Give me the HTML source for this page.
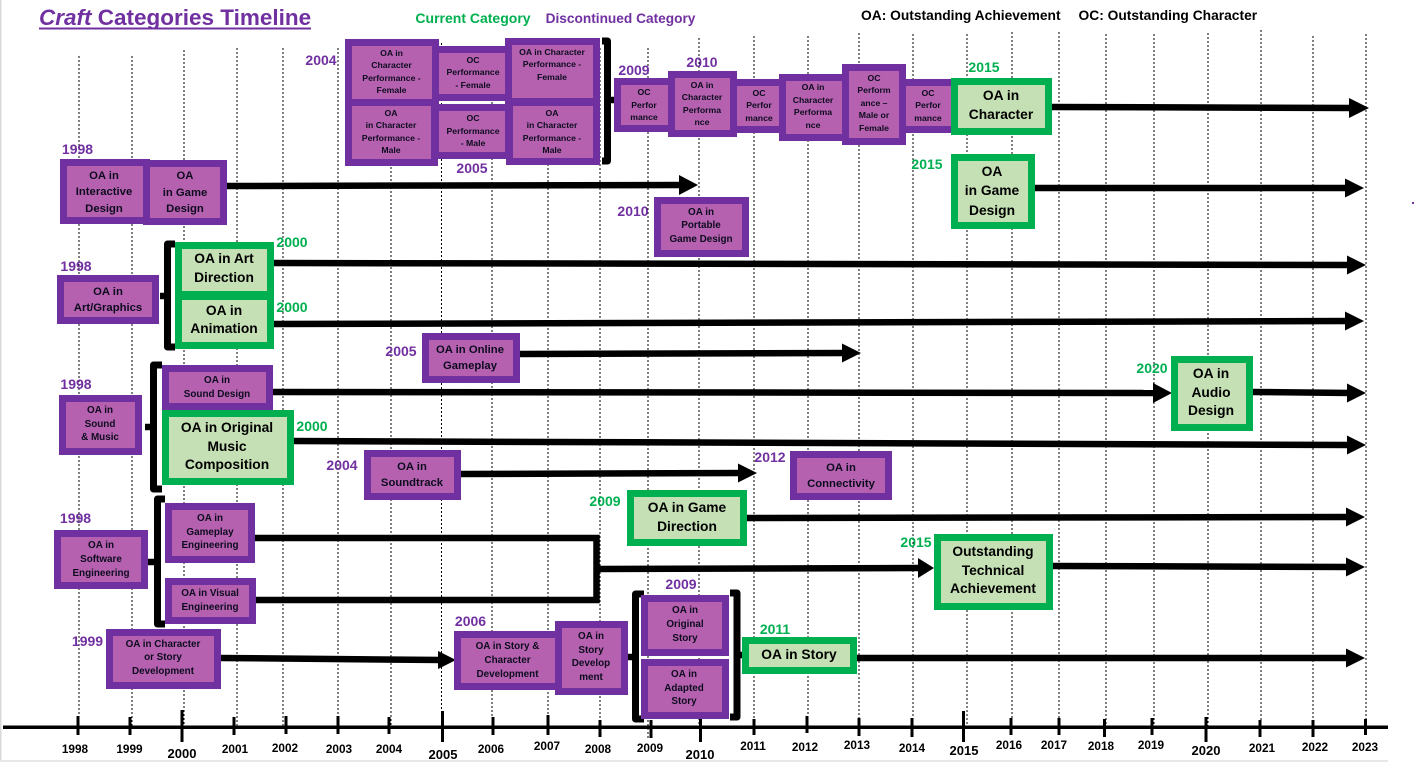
<!DOCTYPE html>
<html lang="en">
<head>
<meta charset="utf-8">
<title>Craft Categories Timeline</title>
<style>
html,body{margin:0;padding:0;background:#fff}
svg{display:block}
text{font-family:"Liberation Sans",sans-serif;font-weight:bold;fill:#0c0c1e;text-anchor:middle}
.p{fill:#b661b0;stroke:#7030a0;stroke-width:7}
.g{fill:#c5e0b4;stroke:#00b050;stroke-width:7}
.d line{stroke:#000;stroke-width:1;stroke-dasharray:2 2;shape-rendering:crispEdges}
.k{fill:none;stroke:#000;stroke-width:6.5}
.b{fill:none;stroke:#000;stroke-width:7;stroke-linejoin:round}
.t line{stroke:#000;stroke-width:3}
.yp text{fill:#7030a0;font-size:14px}
.yg text{fill:#00b050;font-size:14px}
.a text{font-size:11.8px;fill:#000}
.a text.l{font-size:13px}
.s8 text{font-size:8.7px}
.s10 text{font-size:9.9px}
.s11 text{font-size:11.3px}
.s14 text{font-size:13.8px;fill:#000}
</style>
</head>
<body>
<svg width="1414" height="762" viewBox="0 0 1414 762" xmlns="http://www.w3.org/2000/svg">
<rect width="1414" height="762" fill="#fff"/>
<rect x="0" y="0" width="1.5" height="762" fill="#d9d9d9"/>
<rect x="0" y="760" width="1388" height="2" fill="#e7e7e7"/>
<rect x="1412" y="202" width="2" height="2" fill="#7030a0"/>

<g class="d">
<line x1="79" y1="56" x2="79" y2="727"/>
<line x1="132" y1="56" x2="132" y2="727"/>
<line x1="184" y1="50" x2="184" y2="727"/>
<line x1="237" y1="48" x2="237" y2="727"/>
<line x1="283" y1="48" x2="283" y2="727"/>
<line x1="338" y1="48" x2="338" y2="727"/>
<line x1="391" y1="43" x2="391" y2="727"/>
<line x1="441.5" y1="43" x2="441.5" y2="727"/>
<line x1="492" y1="46" x2="492" y2="727"/>
<line x1="548" y1="48" x2="548" y2="727"/>
<line x1="600" y1="48" x2="600" y2="727"/>
<line x1="648" y1="48" x2="648" y2="740"/>
<line x1="699" y1="38" x2="699" y2="727"/>
<line x1="754" y1="36" x2="754" y2="727"/>
<line x1="808" y1="36" x2="808" y2="727"/>
<line x1="859" y1="33" x2="859" y2="727"/>
<line x1="913" y1="34" x2="913" y2="727"/>
<line x1="967" y1="34" x2="967" y2="727"/>
<line x1="1012" y1="32" x2="1012" y2="727"/>
<line x1="1059" y1="32" x2="1059" y2="727"/>
<line x1="1106" y1="34" x2="1106" y2="727"/>
<line x1="1154" y1="34" x2="1154" y2="727"/>
<line x1="1208" y1="33" x2="1208" y2="727"/>
<line x1="1261" y1="30" x2="1261" y2="727"/>
<line x1="1313" y1="36" x2="1313" y2="727"/>
<line x1="1366" y1="34" x2="1366" y2="727"/>
</g>

<!-- axis -->
<rect x="3" y="725.5" width="1385" height="3.5" fill="#000"/>
<g class="t">
<line x1="78" y1="716" x2="78" y2="735"/>
<line x1="130" y1="717" x2="130" y2="735"/>
<line x1="182" y1="710" x2="182" y2="742"/>
<line x1="234" y1="717" x2="234" y2="735"/>
<line x1="286" y1="716" x2="286" y2="734"/>
<line x1="338" y1="716" x2="338" y2="734"/>
<line x1="389" y1="717" x2="389" y2="734"/>
<line x1="442.5" y1="711" x2="442.5" y2="742"/>
<line x1="493" y1="717" x2="493" y2="735"/>
<line x1="548" y1="715" x2="548" y2="735"/>
<line x1="600" y1="720" x2="600" y2="737"/>
<line x1="651" y1="720" x2="651" y2="738"/>
<line x1="700.5" y1="719" x2="700.5" y2="742"/>
<line x1="754" y1="719" x2="754" y2="735"/>
<line x1="807" y1="716" x2="807" y2="733"/>
<line x1="859" y1="718" x2="859" y2="736"/>
<line x1="912" y1="718" x2="912" y2="737"/>
<line x1="963.5" y1="711" x2="963.5" y2="742"/>
<line x1="1011" y1="718" x2="1011" y2="735"/>
<line x1="1059" y1="718" x2="1059" y2="735"/>
<line x1="1104.5" y1="719" x2="1104.5" y2="737"/>
<line x1="1152" y1="718" x2="1152" y2="735"/>
<line x1="1206" y1="717" x2="1206" y2="742"/>
<line x1="1260" y1="720" x2="1260" y2="737"/>
<line x1="1313" y1="720" x2="1313" y2="737"/>
<line x1="1365.5" y1="719" x2="1365.5" y2="735"/>
</g>
<g class="a">
<text x="75" y="753">1998</text>
<text x="129.5" y="753">1999</text>
<text class="l" x="182" y="758">2000</text>
<text x="235" y="753">2001</text>
<text x="285" y="752">2002</text>
<text x="339" y="753">2003</text>
<text x="389" y="753">2004</text>
<text class="l" x="443" y="759">2005</text>
<text x="491" y="753">2006</text>
<text x="547" y="750">2007</text>
<text x="598" y="753">2008</text>
<text x="650" y="752">2009</text>
<text class="l" x="700" y="759">2010</text>
<text x="753" y="750">2011</text>
<text x="805" y="751">2012</text>
<text x="857" y="749">2013</text>
<text x="912" y="752">2014</text>
<text class="l" x="964" y="755">2015</text>
<text x="1009" y="749">2016</text>
<text x="1054" y="749">2017</text>
<text x="1101" y="750">2018</text>
<text x="1151" y="749">2019</text>
<text class="l" x="1206" y="755">2020</text>
<text x="1262" y="752">2021</text>
<text x="1315" y="751">2022</text>
<text x="1365" y="751">2023</text>
</g>

<!-- connectors -->
<g class="k">
<path d="M227 186L685 185"/>
<path d="M1052 107L1355 108"/>
<path d="M1035 188L1350 188"/>
<path d="M274 263L1352 265"/>
<path d="M274 324L1350 321"/>
<path d="M520 354L848 353"/>
<path d="M273 392L1158 393"/>
<path d="M1253 392L1352 393"/>
<path d="M290 441L1352 445"/>
<path d="M461 474L743 473"/>
<path d="M747 518L1351 517"/>
<path d="M255 538H596.5V600H256"/>
<path d="M597 569L920 568"/>
<path d="M1053 566L1351 567"/>
<path d="M221 658L442 660"/>
<path d="M857 658H1351"/>
<path d="M160 296H168"/>
<path d="M145 427H154"/>
<path d="M148 562H157"/>
<path d="M627 657H636"/>
<path d="M737 655H744"/>
<path d="M607 100H614"/>
</g>
<g fill="#000">
<polygon points="679,175 698,185 679,195"/>
<polygon points="1349,98 1369,108 1349,118"/>
<polygon points="1345,178.500 1364,188 1345,197.500"/>
<polygon points="1347,255.500 1366,265 1347,274.500"/>
<polygon points="1345,311.500 1364,321 1345,330.500"/>
<polygon points="842,343.500 861,353 842,362.500"/>
<polygon points="1153,383 1172,393 1153,403"/>
<polygon points="1347,383.500 1366,393 1347,402.500"/>
<polygon points="1347,435.500 1366,445 1347,454.500"/>
<polygon points="738,463.500 757,473 738,482.500"/>
<polygon points="1346,507.500 1365,517 1346,526.500"/>
<polygon points="918,558 934,568 918,578"/>
<polygon points="1346,557.500 1365,567 1346,576.500"/>
<polygon points="438,651 456,660 438,669"/>
<polygon points="1346,648.500 1365,658 1346,667.500"/>
</g>
<g class="b">
<path d="M602 41H607.500V161H602"/>
<path d="M175 244H167.500V347H175"/>
<path d="M162 365H153.500V489H162"/>
<path d="M165 499H157.500V624H165"/>
<path d="M644 594H635.500V719H644"/>
<path d="M730 593H737V717H730"/>
</g>

<!-- purple boxes -->
<rect class="p" x="348.500" y="42.500" width="87" height="60"/>
<rect class="p" x="435.500" y="49.500" width="73" height="48"/>
<rect class="p" x="508.500" y="41.500" width="88" height="60"/>
<rect class="p" x="348.500" y="102.500" width="86" height="60"/>
<rect class="p" x="435.500" y="107.500" width="73" height="48"/>
<rect class="p" x="509.500" y="102.500" width="87" height="59"/>
<rect class="p" x="63.500" y="162.500" width="83" height="58"/>
<rect class="p" x="146.500" y="163.500" width="77" height="58"/>
<rect class="p" x="617.500" y="81.500" width="54" height="47"/>
<rect class="p" x="671.500" y="74.500" width="62" height="59"/>
<rect class="p" x="733.500" y="82.500" width="49" height="47"/>
<rect class="p" x="782.500" y="77.500" width="63" height="60"/>
<rect class="p" x="902.500" y="82.500" width="52" height="47"/>
<rect class="p" x="845.500" y="67.500" width="57" height="74"/>
<rect class="p" x="657.500" y="200.500" width="88" height="53"/>
<rect class="p" x="60.500" y="278.500" width="95" height="42"/>
<rect class="p" x="425.500" y="336.500" width="91" height="43"/>
<rect class="p" x="165.500" y="368.500" width="104" height="38"/>
<rect class="p" x="62.500" y="398.500" width="76" height="53"/>
<rect class="p" x="367.500" y="453.500" width="90" height="43"/>
<rect class="p" x="793.500" y="454.500" width="95" height="42"/>
<rect class="p" x="57.500" y="533.500" width="87" height="52"/>
<rect class="p" x="168.500" y="506.500" width="83" height="53"/>
<rect class="p" x="168.500" y="581.500" width="84" height="39"/>
<rect class="p" x="109.500" y="632.500" width="108" height="53"/>
<rect class="p" x="457.500" y="634.500" width="102" height="52"/>
<rect class="p" x="558.500" y="624.500" width="66" height="67"/>
<rect class="p" x="644.500" y="598.500" width="81" height="54"/>
<rect class="p" x="644.500" y="662.500" width="81" height="53"/>

<!-- green boxes -->
<rect class="g" x="954.500" y="81.500" width="94" height="50"/>
<rect class="g" x="954.500" y="157.500" width="77" height="68"/>
<rect class="g" x="178.500" y="245.500" width="92" height="49"/>
<rect class="g" x="178.500" y="296.500" width="92" height="49"/>
<rect class="g" x="165.500" y="413.500" width="125" height="68"/>
<rect class="g" x="1174.500" y="359.500" width="75" height="68"/>
<rect class="g" x="630.500" y="493.500" width="113" height="49"/>
<rect class="g" x="937.500" y="537.500" width="112" height="69"/>
<rect class="g" x="745.500" y="640.500" width="108" height="30"/>

<!-- header -->
<text x="39" y="25" style="text-anchor:start;font-size:22.500px;fill:#7030a0"><tspan font-style="italic">Craft</tspan> Categories Timeline</text>
<rect x="39" y="27.500" width="272" height="2" fill="#7030a0"/>
<text x="473" y="23" style="font-size:14px;fill:#00b050">Current Category</text>
<text x="620.500" y="23" style="font-size:13.700px;fill:#7030a0">Discontinued Category</text>
<text x="861" y="20" style="text-anchor:start;font-size:13.800px;fill:#000">OA: Outstanding Achievement</text>
<text x="1078.500" y="20" style="text-anchor:start;font-size:13.800px;fill:#000">OC: Outstanding Character</text>

<!-- year labels -->
<g class="yp">
<text x="77.500" y="154">1998</text>
<text x="321" y="65">2004</text>
<text x="472" y="173">2005</text>
<text x="634" y="75">2009</text>
<text x="702" y="67">2010</text>
<text x="633" y="216">2010</text>
<text x="76" y="271">1998</text>
<text x="76" y="389">1998</text>
<text x="401" y="356">2005</text>
<text x="342" y="470">2004</text>
<text x="75.500" y="523">1998</text>
<text x="87.500" y="646">1999</text>
<text x="470.500" y="626">2006</text>
<text x="770" y="462">2012</text>
<text x="681" y="589">2009</text>
</g>
<g class="yg">
<text x="984" y="72">2015</text>
<text x="927" y="169">2015</text>
<text x="292" y="247">2000</text>
<text x="292" y="312">2000</text>
<text x="312" y="431">2000</text>
<text x="1152" y="373">2020</text>
<text x="605" y="506">2009</text>
<text x="916" y="547">2015</text>
<text x="775" y="634">2011</text>
</g>

<!-- small box text -->
<g class="s8">
<text x="391.500" y="56">OA in</text><text x="391.500" y="68">Character</text><text x="391.500" y="81">Performance -</text><text x="391.500" y="93">Female</text>
<text x="473" y="63">OC</text><text x="473" y="75">Performance</text><text x="473" y="88">- Female</text>
<text x="552" y="55">OA in Character</text><text x="552" y="67">Performance -</text><text x="552" y="80">Female</text>
<text x="391" y="116">OA</text><text x="391" y="128">in Character</text><text x="391" y="141">Performance -</text><text x="391" y="153">Male</text>
<text x="473" y="121">OC</text><text x="473" y="134">Performance</text><text x="473" y="146">- Male</text>
<text x="552" y="116">OA</text><text x="552" y="128">in Character</text><text x="552" y="141">Performance -</text><text x="552" y="153">Male</text>
<text x="644" y="95">OC</text><text x="644" y="108">Perfor</text><text x="644" y="120">mance</text>
<text x="702" y="88">OA in</text><text x="702" y="100">Character</text><text x="702" y="113">Performa</text><text x="702" y="125">nce</text>
<text x="759" y="96">OC</text><text x="759" y="108">Perfor</text><text x="759" y="121">mance</text>
<text x="813" y="90">OA in</text><text x="813" y="103">Character</text><text x="813" y="115">Performa</text><text x="813" y="128">nce</text>
<text x="874" y="81">OC</text><text x="874" y="93">Perform</text><text x="874" y="106">ance –</text><text x="874" y="118">Male or</text><text x="874" y="131">Female</text>
<text x="928" y="96">OC</text><text x="928" y="108">Perfor</text><text x="928" y="121">mance</text>
</g>
<g class="s10">
<text x="701" y="215">OA in</text><text x="701" y="228">Portable</text><text x="701" y="242">Game Design</text>
<text x="217" y="383">OA in</text><text x="217" y="397">Sound Design</text>
<text x="100" y="413">OA in</text><text x="100" y="427">Sound</text><text x="100" y="440">&amp; Music</text>
<text x="101" y="548">OA in</text><text x="101" y="562">Software</text><text x="101" y="576">Engineering</text>
<text x="210" y="521">OA in</text><text x="210" y="535">Gameplay</text><text x="210" y="548">Engineering</text>
<text x="210" y="596">OA in Visual</text><text x="210" y="610">Engineering</text>
<text x="163" y="647">OA in Character</text><text x="163" y="660">or Story</text><text x="163" y="674">Development</text>
<text x="507.500" y="649">OA in Story &amp;</text><text x="507.500" y="663">Character</text><text x="507.500" y="677">Development</text>
<text x="591" y="639">OA in</text><text x="591" y="653">Story</text><text x="591" y="666">Develop</text><text x="591" y="680">ment</text>
<text x="685" y="613">OA in</text><text x="685" y="627">Original</text><text x="685" y="641">Story</text>
<text x="684" y="677">OA in</text><text x="684" y="691">Adapted</text><text x="684" y="704">Story</text>
</g>
<g class="s11">
<text x="104" y="179">OA in</text><text x="104" y="195">Interactive</text><text x="104" y="212">Design</text>
<text x="185" y="179">OA</text><text x="185" y="196">in Game</text><text x="185" y="212">Design</text>
<text x="108" y="295">OA in</text><text x="108" y="311">Art/Graphics</text>
<text x="470" y="353">OA in Online</text><text x="470" y="369">Gameplay</text>
<text x="412" y="470">OA in</text><text x="412" y="486">Soundtrack</text>
<text x="841" y="471">OA in</text><text x="841" y="487">Connectivity</text>
</g>
<g class="s14">
<text x="1001" y="100">OA in</text><text x="1001" y="119">Character</text>
<text x="992" y="176">OA</text><text x="992" y="195">in Game</text><text x="992" y="215">Design</text>
<text x="224" y="263">OA in Art</text><text x="224" y="282">Direction</text>
<text x="224" y="315">OA in</text><text x="224" y="333">Animation</text>
<text x="227" y="432">OA in Original</text><text x="227" y="451">Music</text><text x="227" y="469">Composition</text>
<text x="1211" y="378">OA in</text><text x="1211" y="397">Audio</text><text x="1211" y="415">Design</text>
<text x="687" y="512">OA in Game</text><text x="687" y="531">Direction</text>
<text x="993" y="556">Outstanding</text><text x="993" y="575">Technical</text><text x="993" y="593">Achievement</text>
<text x="799" y="659">OA in Story</text>
</g>
</svg>
</body>
</html>
